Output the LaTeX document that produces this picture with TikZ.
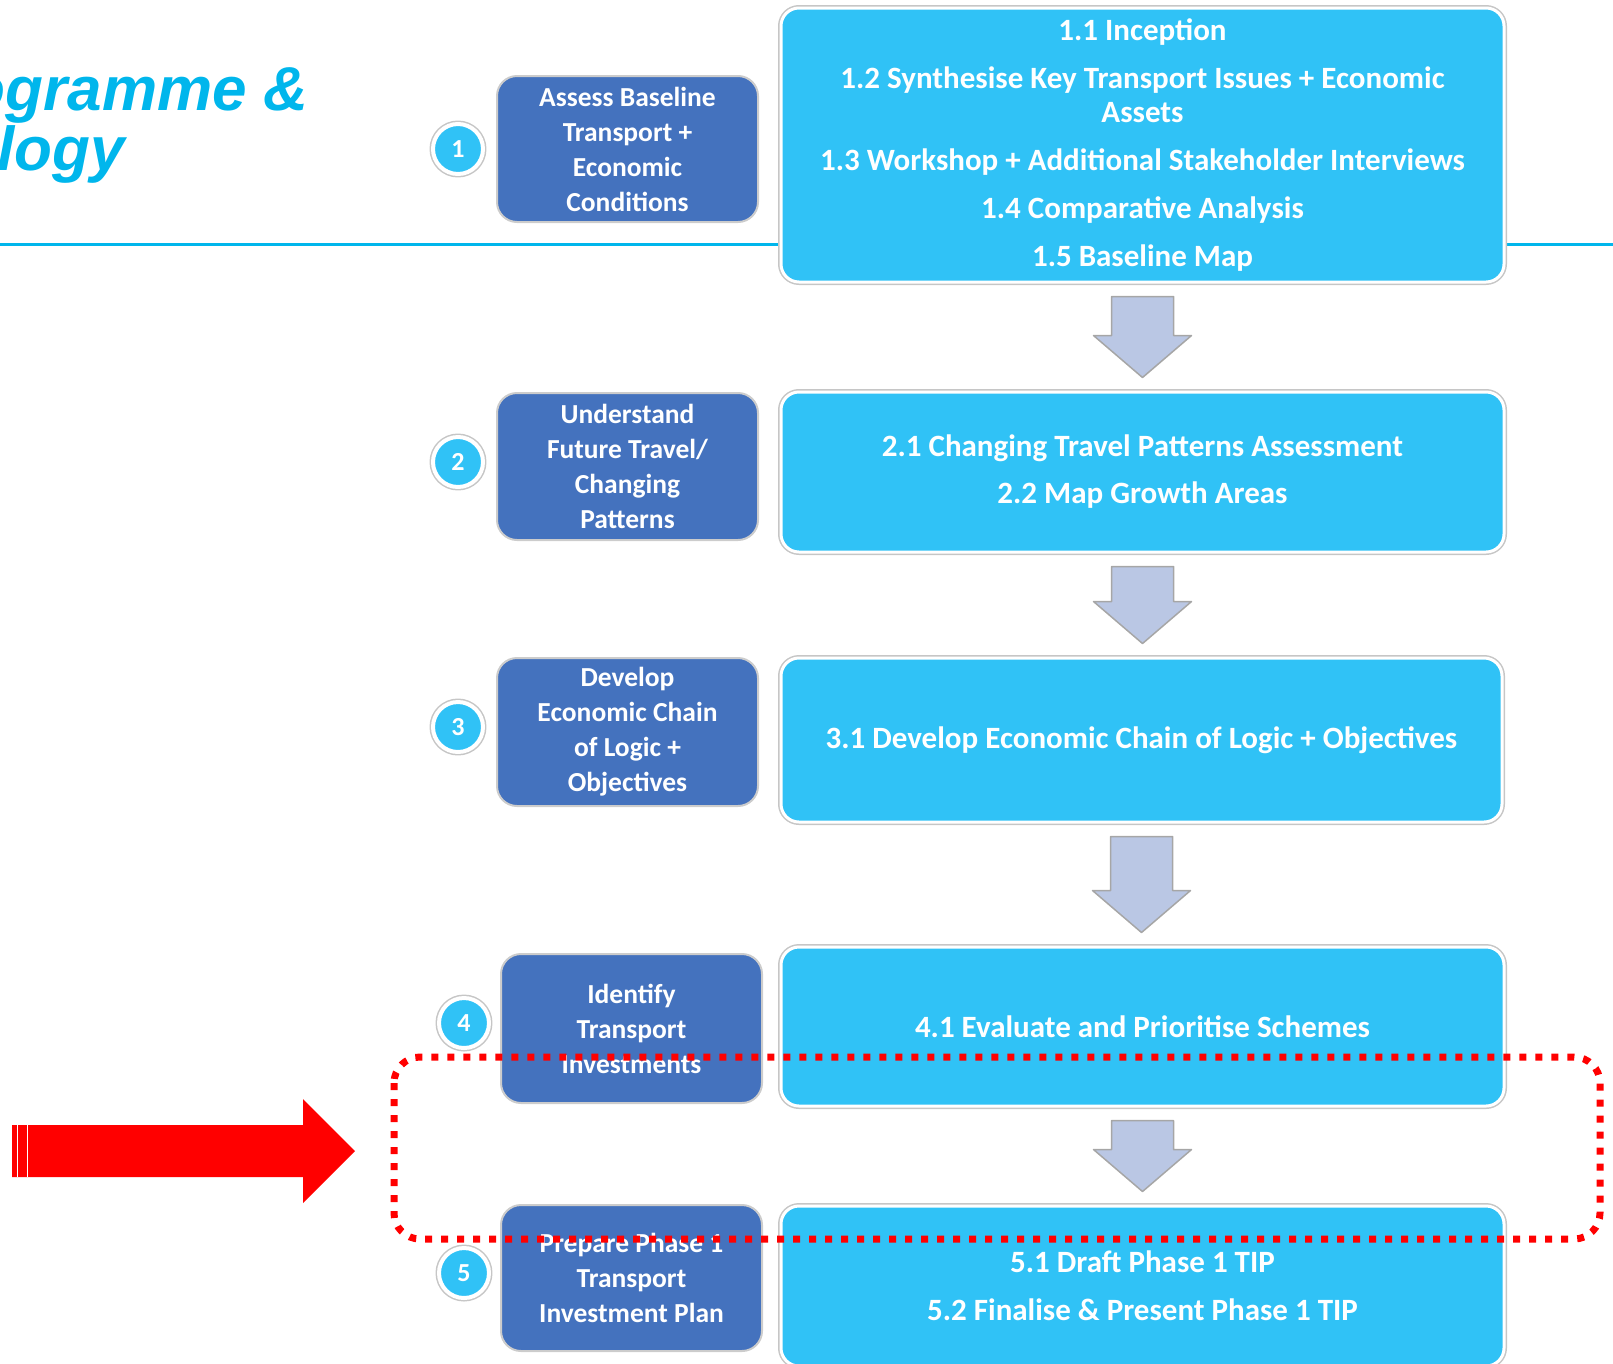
\documentclass[tikz,border=0pt]{standalone}
\usepackage{fontspec}
\setmainfont{Carlito}
\newfontfamily\headfont{Liberation Sans}
\usetikzlibrary{calc}

\definecolor{headcyan}{RGB}{0,182,236}
\definecolor{stageblue}{RGB}{68,114,190}
\definecolor{taskcyan}{RGB}{48,194,246}
\definecolor{flowgrey}{RGB}{186,199,228}

\tikzset{
  stage/.style={fill=stageblue, draw=gray!40, line width=2, rounded corners=20,
    text=white, align=center, inner sep=0, minimum width=261,
    font=\bfseries\fontsize{27.5}{35}\selectfont},
  task/.style={fill=taskcyan, draw=white, line width=3, rounded corners=18,
    preaction={draw=gray!45, line width=6},
    text=white, align=center, inner sep=0, minimum width=723,
    font=\bfseries\fontsize{31}{34}\selectfont},
  badge/.style={circle, fill=taskcyan, draw=white, line width=4,
    preaction={draw=gray!45, line width=7},
    minimum size=50, inner sep=0, text=white,
    font=\bfseries\fontsize{26}{26}\selectfont},
  flow/.style={fill=flowgrey, draw=gray!70, line width=1.5},
  redbox/.style={draw=red, line width=7, dash pattern=on 7pt off 9pt,
    rounded corners=26}
}

\begin{document}
\begin{tikzpicture}[x=1pt, y=-1pt, line join=round]

    % --- Parameter (Pfeile) ---
    \pgfmathsetmacro{\sw}{31}   % halbe Schaftbreite
    \pgfmathsetmacro{\hw}{49}   % halbe Spitzenbreite
    \pgfmathsetmacro{\hl}{42}   % Laenge der Spitze
    \pgfmathsetmacro{\gp}{13}   % Abstand zum Kasten

    \useasboundingbox (0,0) rectangle (1613,1363);
    \clip (0,0) rectangle (1613,1363);

    % --- Titel (links abgeschnitten) ---
    \node[anchor=base east, inner sep=0, text=headcyan,
      font=\headfont\bfseries\itshape\fontsize{62}{62}\selectfont] (head1) at (309,110) {Programme \&};
    \node[anchor=base east, inner sep=0, text=headcyan,
      font=\headfont\bfseries\itshape\fontsize{62}{62}\selectfont] (head2) at (125,170) {Methodology};
    \draw[headcyan, line width=3] (0,244) -- (1613,244);

    % --- Schritte links ---
    \node[stage, minimum height=146] (s1) at (627.5,149) {Assess Baseline\\Transport +\\Economic\\Conditions};
    \node[stage, minimum height=147] (s2) at (627.5,466.5) {Understand\\Future Travel/\\Changing\\Patterns};
    \node[stage, minimum height=148] (s3) at (627.5,732) {Develop\\Economic Chain\\of Logic +\\Objectives};
    \node[stage, minimum height=149] (s4) at (631.5,1028.5) {Identify\\Transport\\Investments};
    \node[stage, minimum height=146] (s5) at (631.5,1278) {Prepare Phase 1\\Transport\\Investment Plan};

    % --- Nummern ---
    \node[badge] (n1) at (458,149) {1};
    \node[badge] (n2) at (458,462) {2};
    \node[badge] (n3) at (458,727) {3};
    \node[badge] (n4) at (464,1023) {4};
    \node[badge] (n5) at (464,1273) {5};

    % --- Aufgaben rechts ---
    \node[task, minimum height=274] (t1) at (1142.5,145) {1.1 Inception\\[14pt]1.2 Synthesise Key Transport Issues + Economic\\Assets\\[14pt]1.3 Workshop + Additional Stakeholder Interviews\\[14pt]1.4 Comparative Analysis\\[14pt]1.5 Baseline Map};
    \node[task, minimum height=160] (t2) at (1142.5,472) {2.1 Changing Travel Patterns Assessment\\[13pt]2.2 Map Growth Areas};
    \node[task, minimum height=164, minimum width=721] (t3) at (1141.5,740) {3.1 Develop Economic Chain of Logic + Objectives};
    \node[task, minimum height=159] (t4) at (1142.5,1026.5) {4.1 Evaluate and Prioritise Schemes};
    \node[task, minimum height=160] (t5) at (1142.5,1286) {5.1 Draft Phase 1 TIP\\[14pt]5.2 Finalise \& Present Phase 1 TIP};

    % --- Blockpfeile zwischen den Aufgaben ---
    \foreach \a/\b in {t1/t2, t2/t3, t3/t4, t4/t5}
      \draw[flow] let \p1=(\a.south), \p2=(\b.north) in
        (\x1-\sw,\y1-\gp) -- (\x1+\sw,\y1-\gp) -- (\x1+\sw,\y2+\gp+\hl)
        -- (\x1+\hw,\y2+\gp+\hl) -- (\x1,\y2+\gp) -- (\x1-\hw,\y2+\gp+\hl)
        -- (\x1-\sw,\y2+\gp+\hl) -- cycle;

    % --- Markierung ---
    \draw[redbox] (394,1057) rectangle (1600,1239);
    \fill[red] (12,1125) -- (303,1125) -- (303,1099) -- (355,1151)
      -- (303,1203) -- (303,1177) -- (12,1177) -- cycle;
    \draw[white, line width=1] (17.5,1125) -- (17.5,1177);
    \draw[white, line width=1] (27.5,1125) -- (27.5,1177);

\end{tikzpicture}
\end{document}
